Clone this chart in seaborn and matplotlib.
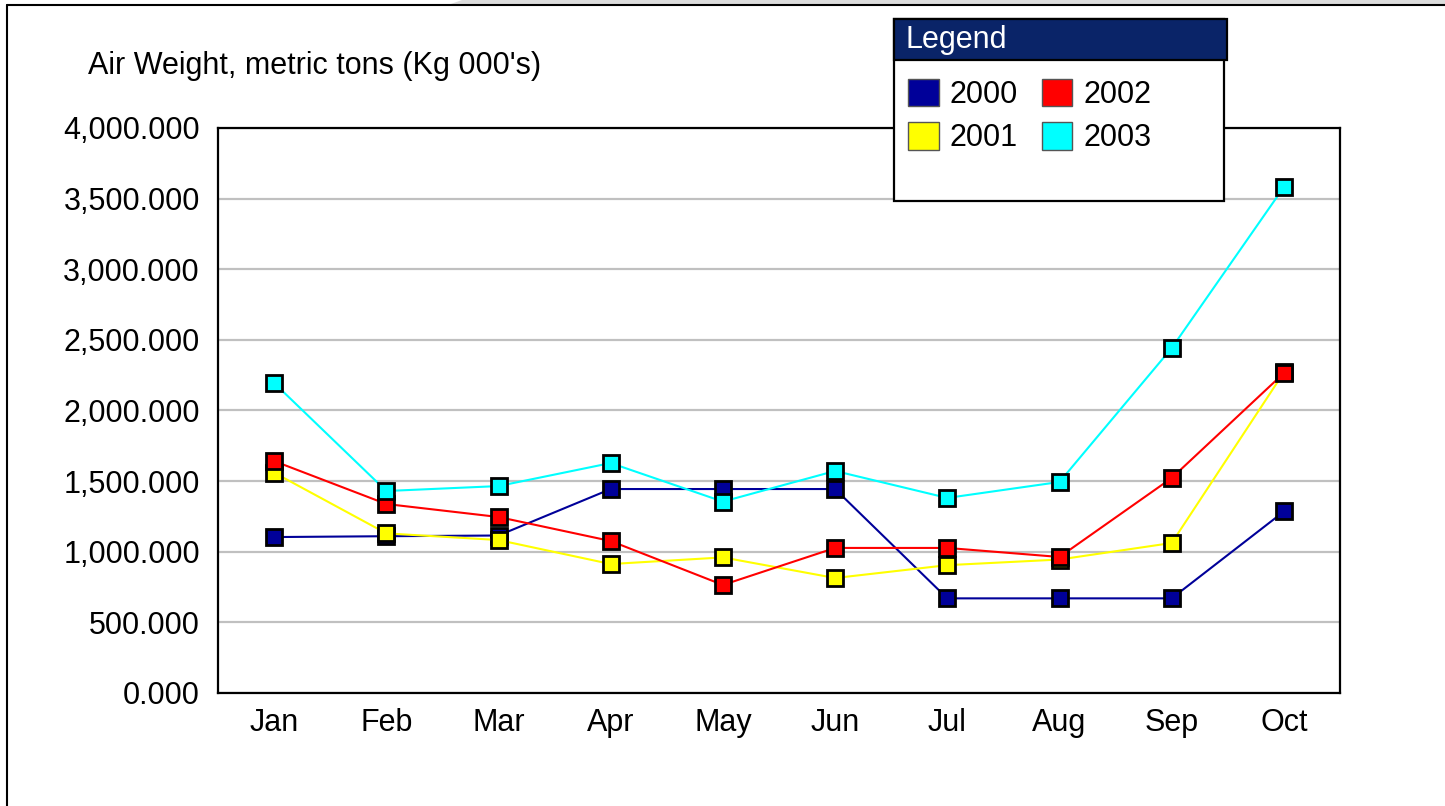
import numpy as np
import pandas as pd
import matplotlib
matplotlib.use('Agg')
import matplotlib.pyplot as plt
from matplotlib.patches import Rectangle, Polygon, Patch
from matplotlib.lines import Line2D
from matplotlib.ticker import FuncFormatter
import seaborn as sns

months = ['Jan', 'Feb', 'Mar', 'Apr', 'May', 'Jun', 'Jul', 'Aug', 'Sep', 'Oct']
years = ['2000', '2001', '2002', '2003']
w2000 = [1104, 1110, 1115, 1444, 1444, 1444, 670, 670, 670, 1285]
w2001 = [1560, 1130, 1083, 913, 960, 814, 905, 945, 1062, 2270]
w2002 = [1642, 1338, 1246, 1076, 765, 1027, 1027, 963, 1522, 2265]
w2003 = [2195, 1430, 1465, 1628, 1355, 1572, 1381, 1494, 2442, 3582]
colors = ['#000099', '#ffff00', '#ff0000', '#00ffff']

rows = []
for yr, vals in zip(years, [w2000, w2001, w2002, w2003]):
    for i, v in enumerate(vals):
        rows.append({'month_idx': i, 'year': yr, 'weight': v})
df = pd.DataFrame(rows)

sns.set_style('white')
plt.rcParams['font.family'] = ['Liberation Sans', 'DejaVu Sans']
plt.rcParams['text.color'] = 'black'
FS = 22

W, H = 1445, 806
fig = plt.figure(figsize=(W / 100, H / 100), dpi=100)
ax = fig.add_axes([218 / W, 1 - 693 / H, (1340 - 218) / W, (693 - 128) / H])

sns.lineplot(data=df, x='month_idx', y='weight', hue='year', palette=colors,
             marker='s', markersize=11, markeredgecolor='black', markeredgewidth=2,
             linewidth=1.5, legend=False, ax=ax, zorder=3)

ax.set_xlim(-0.5, len(months) - 0.5)
ax.set_ylim(0, 4000)
ax.set_xticks(range(len(months)))
ax.set_xticklabels(months)
ax.set_yticks(np.arange(0, 4001, 500))
ax.yaxis.set_major_formatter(FuncFormatter(lambda v, p: f'{v:,.3f}'))
ax.tick_params(axis='both', length=0, labelsize=FS, colors='black')
ax.tick_params(axis='x', pad=11)
ax.tick_params(axis='y', pad=13)
ax.set_xlabel('')
ax.set_ylabel('')
ax.grid(axis='y', color='#c0c0c0', linewidth=1.6)
ax.grid(axis='x', visible=False)
for s in ax.spines.values():
    s.set_visible(True)
    s.set_color('black')
    s.set_linewidth(1.6)

def fx(px):
    return px / W

def fy(py):
    return 1 - py / H

# outer frame and grey corner
fig.add_artist(Polygon([[fx(448), fy(5)], [fx(462), fy(0)], [1, 1], [1, fy(5)]],
                       closed=True, facecolor='#dcdcdc', edgecolor='none',
                       transform=fig.transFigure))
fig.add_artist(Line2D([fx(7), fx(7)], [0, fy(5)], color='black', linewidth=1.5,
                      transform=fig.transFigure))
fig.add_artist(Line2D([fx(7), 1], [fy(5), fy(5)], color='black', linewidth=1.5,
                      transform=fig.transFigure))

fig.text(fx(88), fy(66), "Air Weight, metric tons (Kg 000's)", fontsize=FS,
         color='black', ha='left', va='center')

# legend box
fig.add_artist(Rectangle((fx(894), fy(201)), fx(1224 - 894), (201 - 19) / H,
                         facecolor='white', edgecolor='black', linewidth=1.6,
                         transform=fig.transFigure, zorder=5))
fig.add_artist(Rectangle((fx(894), fy(60)), fx(1227 - 894), (60 - 19) / H,
                         facecolor='#0a2468', edgecolor='black', linewidth=1.6,
                         transform=fig.transFigure, zorder=6))
fig.text(fx(906), fy(40), 'Legend', color='white', fontsize=FS,
         ha='left', va='center', zorder=7)

handles = [Patch(facecolor=c, edgecolor='#555555', linewidth=1.0) for c in colors]
leg = fig.legend(handles, years, ncol=2, loc='upper left',
                 bbox_to_anchor=(fx(908), fy(79)), frameon=False, fontsize=FS,
                 handlelength=1.0, handleheight=1.0, handletextpad=0.36,
                 columnspacing=0.78, labelspacing=0.4, borderpad=0,
                 borderaxespad=0)
for t in leg.get_texts():
    t.set_color('black')
leg.set_zorder(8)

fig.savefig('out.png', dpi=100)
